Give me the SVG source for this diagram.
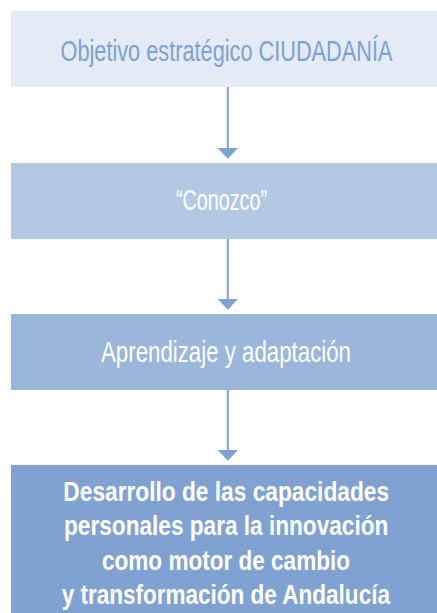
<svg xmlns="http://www.w3.org/2000/svg" width="437" height="613" viewBox="0 0 437 613">
<style>
.t{font-family:"Liberation Sans Narrow","Liberation Sans",Arial,sans-serif;font-size:29.5px;text-anchor:middle}
.w{fill:#ffffff}
.b{font-weight:bold;font-size:28px}
.ln{stroke:#7DA1D2;stroke-width:2;fill:none}
.hd{fill:#7DA1D2}
</style>
<rect width="437" height="613" fill="#ffffff"/>
<g id="n1">
<rect x="11" y="11" width="426" height="76" fill="#E4EBF6"/>
<text class="t" x="226.5" y="61" fill="#7DA1D1" textLength="332" lengthAdjust="spacingAndGlyphs">Objetivo estratégico CIUDADANÍA</text>
</g>
<g id="n2">
<rect x="11" y="163" width="426" height="76" fill="#B3C8E4"/>
<text class="t w" x="221.5" y="210" textLength="91" lengthAdjust="spacingAndGlyphs">“Conozco”</text>
</g>
<g id="n3">
<rect x="11" y="314" width="426" height="76" fill="#9AB7DB"/>
<text class="t w" x="226" y="361.5" textLength="250" lengthAdjust="spacingAndGlyphs">Aprendizaje y adaptación</text>
</g>
<g id="n4">
<rect x="11" y="465" width="426" height="148" fill="#7FA2D2"/>
<text class="t w b" x="226.2" y="500.7" textLength="325.7" lengthAdjust="spacingAndGlyphs">Desarrollo de las capacidades</text>
<text class="t w b" x="226.2" y="535.2" textLength="324.3" lengthAdjust="spacingAndGlyphs">personales para la innovación</text>
<text class="t w b" x="226" y="569.6" textLength="248" lengthAdjust="spacingAndGlyphs">como motor de cambio</text>
<text class="t w b" x="225.8" y="604" textLength="328.3" lengthAdjust="spacingAndGlyphs">y transformación de Andalucía</text>
</g>
<g id="connectors">
<line class="ln" x1="227.8" y1="87" x2="227.8" y2="149"/>
<polygon class="hd" points="217.6,148 238,148 227.8,158.7"/>
<line class="ln" x1="227.8" y1="239" x2="227.8" y2="300"/>
<polygon class="hd" points="217.6,299 238,299 227.8,309.7"/>
<line class="ln" x1="227.8" y1="390" x2="227.8" y2="451"/>
<polygon class="hd" points="217.6,450 238,450 227.8,460.7"/>
</g>
</svg>
